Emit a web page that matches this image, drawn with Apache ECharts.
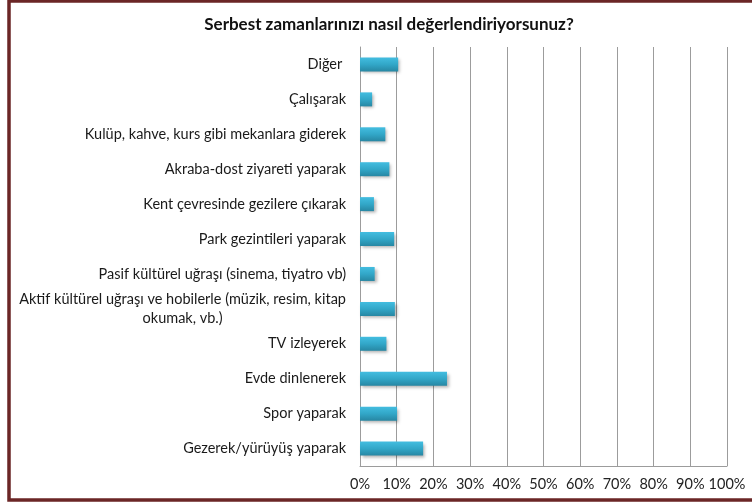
<!DOCTYPE html>
<html>
<head>
<meta charset="utf-8">
<script src="https://cdn.jsdelivr.net/npm/echarts@6/dist/echarts.min.js"></script>
<style>
  html, body { margin: 0; padding: 0; background: #fff; }
  #chart { width: 752px; height: 502px; }
</style>
</head>
<body>
<div id="chart"></div>
<script>
const TITLE = "Serbest zamanlarınızı nasıl değerlendiriyorsunuz?";

// top to bottom, as in the picture
const categories = [
  "Diğer ",
  "Çalışarak",
  "Kulüp, kahve, kurs gibi mekanlara giderek",
  "Akraba-dost ziyareti yaparak",
  "Kent çevresinde gezilere çıkarak",
  "Park gezintileri yaparak",
  "Pasif kültürel uğraşı (sinema, tiyatro vb)",
  "Aktif kültürel uğraşı ve hobilerle (müzik, resim, kitap okumak, vb.)",
  "TV izleyerek",
  "Evde dinlenerek",
  "Spor yaparak",
  "Gezerek/yürüyüş yaparak",
];

// percent
const values = [10.4, 3.3, 6.9, 8.0, 3.8, 9.3, 4.0, 9.5, 7.2, 23.7, 10.1, 17.2];

const xTicks = [0, 10, 20, 30, 40, 50, 60, 70, 80, 90, 100];

const FONT = "Lato";
const LABEL_SIZE = 14.5;
const GRID_GRAY = "#9c9c9c";

// the long label wraps, second line centred under the first
const formatLabel = (name) => {
  const cut = name.indexOf(" okumak");
  if (cut < 0) return `{r|${name}}`;
  return `{r|${name.slice(0, cut)}}\n{c|${name.slice(cut + 1)}}`;
};

const chart = echarts.init(document.getElementById("chart"), null, { renderer: "canvas" });

chart.setOption({
  backgroundColor: "#fff",
  animation: false,
  title: {
    text: TITLE,
    left: 384,
    top: 11,
    textAlign: "center",
    textStyle: { fontFamily: FONT, fontSize: 17, fontWeight: "bold", color: "#111" },
  },
  grid: { left: 360, right: 25, top: 47, bottom: 36, containLabel: false },
  xAxis: {
    type: "value",
    min: 0,
    max: 100,
    interval: 10,
    axisLine: { show: true, lineStyle: { color: GRID_GRAY } },
    axisTick: { show: false },
    splitLine: { show: true, lineStyle: { color: GRID_GRAY, width: 1 } },
    axisLabel: {
      margin: 11,
      fontFamily: FONT,
      fontSize: LABEL_SIZE,
      color: "#222",
      formatter: (v) => (xTicks.includes(v) ? v + "%" : ""),
    },
  },
  yAxis: {
    type: "category",
    inverse: true,
    data: categories,
    axisLine: { show: true, lineStyle: { color: GRID_GRAY } },
    axisTick: { show: false },
    splitLine: { show: false },
    axisLabel: {
      margin: 14,
      interval: 0,
      fontFamily: FONT,
      fontSize: LABEL_SIZE,
      color: "#1a1a1a",
      formatter: formatLabel,
      rich: {
        r: { fontFamily: FONT, fontSize: LABEL_SIZE, color: "#1a1a1a", lineHeight: 19 },
        c: { fontFamily: FONT, fontSize: LABEL_SIZE, color: "#1a1a1a", lineHeight: 19, align: "center" },
      },
    },
  },
  series: [
    {
      type: "bar",
      data: values,
      barWidth: 14,
      itemStyle: {
        color: new echarts.graphic.LinearGradient(0, 0, 0, 1, [
          { offset: 0, color: "#43bde0" },
          { offset: 0.5, color: "#32a7c8" },
          { offset: 1, color: "#2787a3" },
        ]),
        shadowColor: "rgba(0,0,0,0.3)",
        shadowBlur: 3,
        shadowOffsetX: 2,
        shadowOffsetY: 2,
      },
    },
  ],
  graphic: [
    {
      type: "rect",
      silent: true,
      shape: { x: 9, y: 1, width: 800, height: 499 },
      style: { fill: null, stroke: "#6b2626", lineWidth: 3.5 },
    },
  ],
});
</script>
</body>
</html>
